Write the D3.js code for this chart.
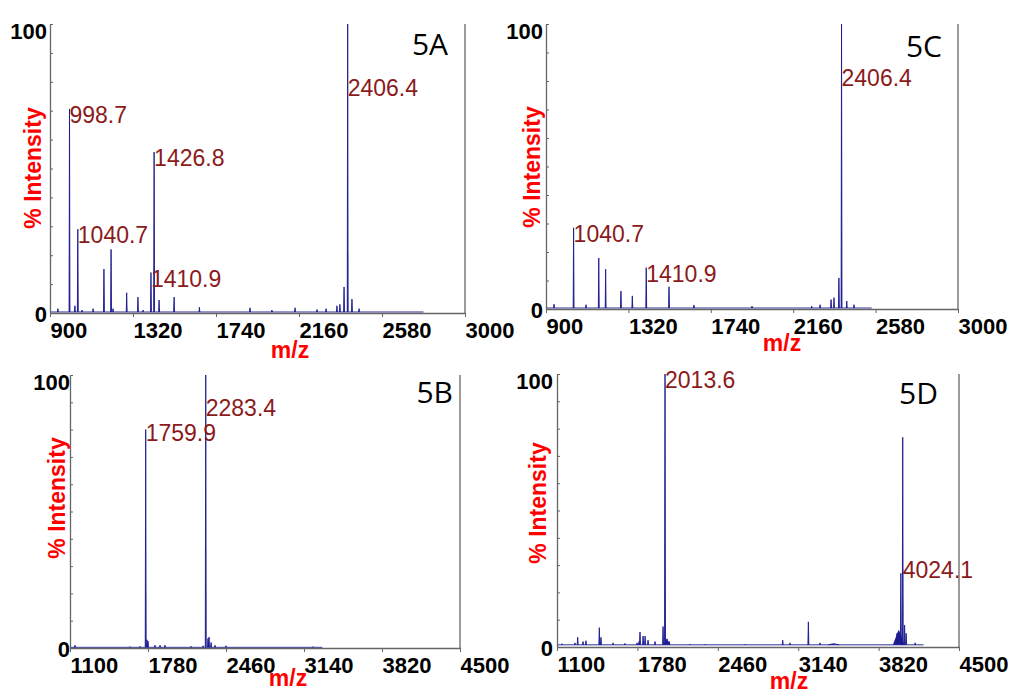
<!DOCTYPE html>
<html>
<head>
<meta charset="utf-8">
<script src="https://cdn.jsdelivr.net/npm/d3@7"></script>
<style>
  body { margin: 0; background: #fff; }
  svg { display: block; }
</style>
</head>
<body>
<div id="chart"></div>
<script>
// tick labels on the m/z axes
const ticksAC = [900, 1320, 1740, 2160, 2580, 3000];
const ticksBD = [1100, 1780, 2460, 3140, 3820, 4500];

// peaks: [m/z, % intensity, optional half width in m/z]
const peaksA = [
  [940, 1.5], [998.7, 70.6], [1026, 2.5], [1040.7, 29], [1062, 1], [1118, 1.5],
  [1173, 15.2], [1209, 22], [1219, 1.5], [1288, 7], [1345, 5.5], [1371, 1],
  [1410.9, 14], [1426.8, 55.7], [1452, 4.5], [1528, 5.5], [1656, 2], [1912, 1.8],
  [2023, 1], [2140, 1.8], [2251, 1.2], [2297, 1.5], [2352, 2.5], [2367, 3],
  [2388, 9], [2406.4, 100], [2428, 4.8], [2464, 1.5]
];
const peaksB = [
  [1144, 1], [1623, 0.5], [1710, 0.6], [1759.9, 80], [1771, 3], [1780, 2.5],
  [1841, 1], [1885, 1], [1928, 1], [2155, 0.6], [2260, 0.8], [2283.4, 100],
  [2303, 3.5], [2312, 4], [2330, 2], [2364, 1], [2460, 0.8], [3219, 0.5]
];
const peaksC = [
  [941, 1.7], [1040.7, 28.5], [1104, 1.5], [1169, 17.9], [1204, 14], [1282, 6.3],
  [1340, 4.6], [1410.9, 14.5], [1527, 7.8], [1654, 1.4], [1950, 1], [2254, 1],
  [2297, 1.5], [2353, 3.3], [2368, 4], [2393, 10.9], [2406.4, 100], [2433, 2.8],
  [2470, 1.5]
];
const peaksD = [
  [1142, 1.2], [1252, 1.5], [1275, 3.6], [1320, 2], [1345, 2.3], [1458, 7.1],
  [1472, 3.5], [1574, 1.5], [1675, 1.3], [1777, 1.5], [1794, 2], [1802, 5.5],
  [1828, 4], [1845, 4], [1870, 2.5], [1929, 2], [1997, 7.5], [2013.6, 100],
  [2030, 3, 20], [2050, 2], [2225, 1], [2352, 1], [2690, 1], [3009, 2.5],
  [3071, 1.5], [3226, 9.2], [3325, 1.5], [3440, 1.2, 45], [3976, 5],
  [3990, 6, 45], [4008, 27], [4024.1, 76.8], [4040, 8], [4053, 5], [4129, 1.5]
];

// annotated peaks: [m/z, % intensity where the label sits]
const labelsA = [[998.7, 70.6], [1040.7, 29], [1426.8, 55.7], [1410.9, 14], [2406.4, 80]];
const labelsB = [[1759.9, 81], [2283.4, 90]];
const labelsC = [[1040.7, 28.5], [1410.9, 14.5], [2406.4, 83]];
const labelsD = [[2013.6, 100], [4024.1, 30.5]];

// noise floor, % intensity, and where the recorded trace ends (m/z)
const noiseA = 0.35, noiseB = 0.25, noiseC = 0.35, noiseD = 0.8;
const traceEnd = { "5A": 2790, "5B": 3300, "5C": 2560, "5D": 4200 };

const width = 1010, height = 693;
const navy = "#1b1b90", darkRed = "#8b1a1a", axisGrey = "#666";
const font = "'Liberation Sans', Arial, sans-serif";

const svg = d3.select("#chart")
  .append("svg")
  .attr("width", width)
  .attr("height", height);

const panels = [
  { id: "5A", left: 50, right: 465, top: 24, bottom: 313, domain: [900, 3000], ticks: ticksAC,
    peaks: peaksA, labels: labelsA, noise: noiseA, hw: 2.2,
    yLab: [33, 168], mz: [290, 358], tag: [448, 55], gap: 3 },
  { id: "5C", left: 546, right: 958, top: 24, bottom: 309, domain: [900, 3000], ticks: ticksAC,
    peaks: peaksC, labels: labelsC, noise: noiseC, hw: 2.2,
    yLab: [532, 167], mz: [782, 351], tag: [942, 57], gap: 3 },
  { id: "5B", left: 70, right: 460, top: 375, bottom: 648, domain: [1100, 4500], ticks: ticksBD,
    peaks: peaksB, labels: labelsB, noise: noiseB, hw: 4,
    yLab: [57, 498], mz: [288, 686], tag: [453, 403], gap: 0 },
  { id: "5D", left: 557, right: 959, top: 374, bottom: 647, domain: [1100, 4500], ticks: ticksBD,
    peaks: peaksD, labels: labelsD, noise: noiseD, hw: 4,
    yLab: [538, 503], mz: [789, 689], tag: [938, 404], gap: 4 }
];

panels.forEach(drawPanel);

function drawPanel(p) {
  const x = d3.scaleLinear().domain(p.domain).range([p.left, p.right]);
  const y = d3.scaleLinear().domain([0, 100]).range([p.bottom, p.top]);
  const g = svg.append("g");

  // spectrum
  const spec = g.append("g");
  spec.append("line")
    .attr("x1", x(Math.max(p.domain[0], p.peaks[0][0] - 40))).attr("x2", x(traceEnd[p.id]))
    .attr("y1", y(p.noise)).attr("y2", y(p.noise))
    .attr("stroke", navy).attr("stroke-width", 0.9);

  spec.selectAll("path")
    .data(p.peaks)
    .join("path")
    .attr("d", d => {
      const hw = d[2] || p.hw;
      return `M${x(d[0] - hw)},${y(p.noise)}L${x(d[0])},${y(d[1])}L${x(d[0] + hw)},${y(p.noise)}`;
    })
    .attr("fill", navy)
    .attr("stroke", navy)
    .attr("stroke-width", 0.9)
    .attr("stroke-linejoin", "round");

  // x axis
  const xAxis = g.append("g")
    .attr("transform", `translate(0,${p.bottom})`)
    .call(d3.axisBottom(x).tickValues(p.ticks).tickSize(4).tickSizeOuter(0).tickFormat(d3.format("d")));
  xAxis.select(".domain").attr("stroke", axisGrey).attr("stroke-width", 1.3);
  xAxis.selectAll(".tick line").attr("stroke", axisGrey);
  xAxis.selectAll("text")
    .attr("text-anchor", "start")
    .attr("y", 25).attr("dy", 0)
    .attr("fill", "#000")
    .style("font", `bold 22px ${font}`);

  // y axis: inner ticks every 10 %, labels only at 0 and 100
  const yTicks = g.append("g")
    .attr("transform", `translate(${p.left},0)`)
    .call(d3.axisRight(y).tickValues(d3.range(0, 101, 10)).tickSize(3).tickSizeOuter(0).tickFormat(""));
  yTicks.select(".domain").attr("stroke", axisGrey).attr("stroke-width", 1.3);
  yTicks.selectAll(".tick line").attr("stroke", axisGrey);

  const yAxis = g.append("g")
    .attr("transform", `translate(${p.left},0)`)
    .call(d3.axisLeft(y).tickValues([0, 100]).tickSize(0).tickPadding(p.gap));
  yAxis.select(".domain").remove();
  yAxis.selectAll("text")
    .attr("fill", "#000")
    .attr("dy", d => d === 100 ? "0.66em" : "0.4em")
    .style("font", `bold 22px ${font}`);

  // right frame line
  g.append("line")
    .attr("x1", p.right).attr("x2", p.right)
    .attr("y1", p.top).attr("y2", p.bottom)
    .attr("stroke", axisGrey).attr("stroke-width", 1.3);

  // peak labels
  g.selectAll("text.pk")
    .data(p.labels)
    .join("text")
    .attr("class", "pk")
    .attr("x", d => x(d[0]))
    .attr("y", d => y(d[1]) + 14)
    .attr("fill", darkRed)
    .style("font", `23px ${font}`)
    .text(d => d[0].toFixed(1));

  // axis titles
  g.append("text")
    .attr("transform", `translate(${p.yLab[0]},${p.yLab[1]}) rotate(-90)`)
    .attr("text-anchor", "middle")
    .attr("dy", "0.35em")
    .attr("fill", "#ff0000")
    .style("font", `bold 23px ${font}`)
    .text("% Intensity");

  g.append("text")
    .attr("x", p.mz[0]).attr("y", p.mz[1])
    .attr("text-anchor", "middle")
    .attr("fill", "#ff0000")
    .style("font", `bold 23px ${font}`)
    .text("m/z");

  // panel tag
  g.append("text")
    .attr("x", p.tag[0]).attr("y", p.tag[1])
    .attr("text-anchor", "end")
    .attr("fill", "#000")
    .style("font", `30px 'Open Sans', 'Noto Sans', sans-serif`)
    .text(p.id);
}
</script>
</body>
</html>
